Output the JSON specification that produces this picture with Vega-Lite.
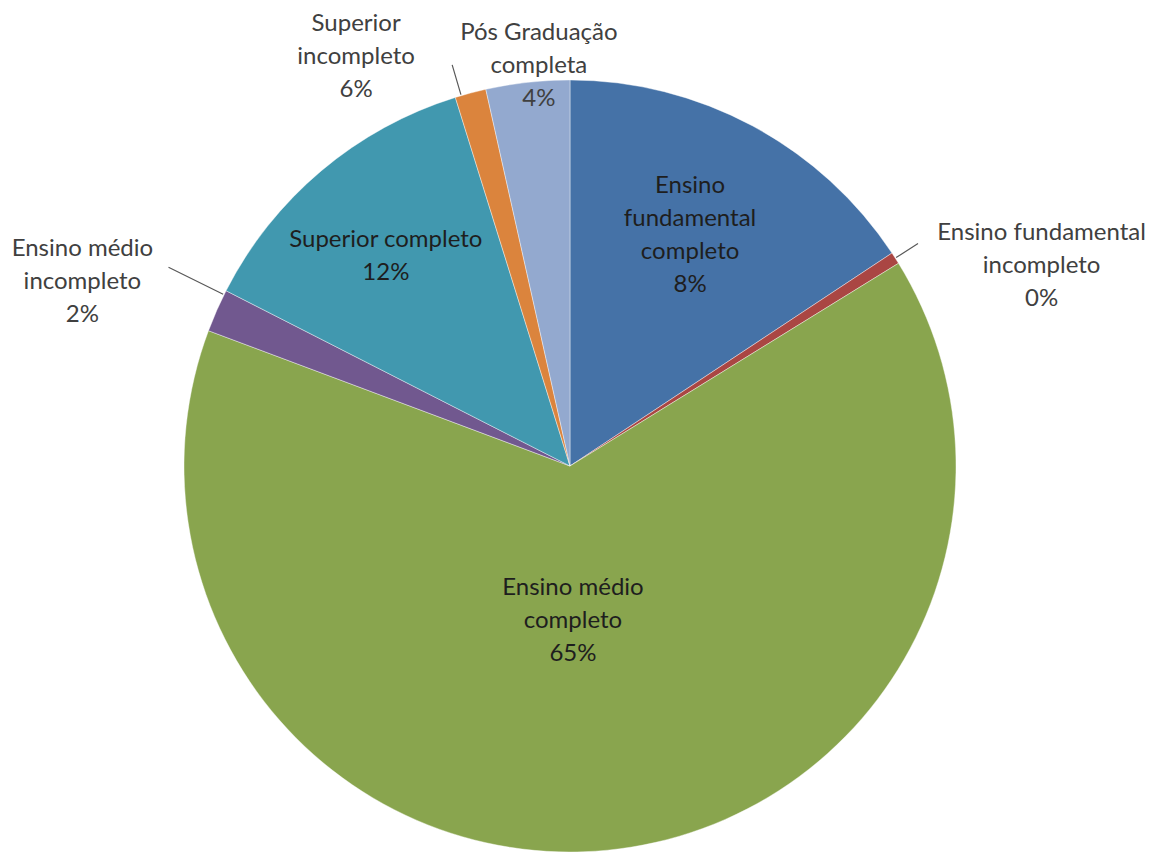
{
  "$schema": "https://vega.github.io/schema/vega-lite/v6.json",
  "width": 1140,
  "height": 772,
  "autosize": {"type": "none"},
  "padding": {"left": 0, "top": 80, "right": 15, "bottom": 0},
  "background": "white",
  "config": {"view": {"stroke": null}, "text": {"font": "Lato", "fontSize": 24, "lineHeight": 33, "lineBreak": "\n", "align": "center", "baseline": "middle"}},
  "data": {"values": [
    {"categoria": "Ensino fundamental completo", "valor": 15.7, "ordem": 1, "rotulo": "Ensino\nfundamental\ncompleto\n8%"},
    {"categoria": "Ensino fundamental incompleto", "valor": 0.5, "ordem": 2, "rotulo": "Ensino fundamental\nincompleto\n0%"},
    {"categoria": "Ensino médio completo", "valor": 64.5, "ordem": 3, "rotulo": "Ensino médio\ncompleto\n65%"},
    {"categoria": "Ensino médio incompleto", "valor": 1.8, "ordem": 4, "rotulo": "Ensino médio\nincompleto\n2%"},
    {"categoria": "Superior completo", "valor": 12.7, "ordem": 5, "rotulo": "Superior completo\n12%"},
    {"categoria": "Superior incompleto", "valor": 1.3, "ordem": 6, "rotulo": "Superior\nincompleto\n6%"},
    {"categoria": "Pós Graduação completa", "valor": 3.5, "ordem": 7, "rotulo": "Pós Graduação\ncompleta\n4%"}
  ]},
  "encoding": {
    "theta": {"field": "valor", "type": "quantitative", "stack": true},
    "order": {"field": "ordem", "type": "quantitative"}
  },
  "layer": [
    {
      "mark": {"type": "arc", "outerRadius": 386, "stroke": "#ffffff", "strokeWidth": 0.8, "strokeOpacity": 0.5},
      "encoding": {
        "color": {
          "field": "categoria", "type": "nominal", "legend": null,
          "scale": {
            "domain": ["Ensino fundamental completo", "Ensino fundamental incompleto", "Ensino médio completo", "Ensino médio incompleto", "Superior completo", "Superior incompleto", "Pós Graduação completa"],
            "range": ["#4572A7", "#AA4643", "#89A54E", "#71588F", "#4198AF", "#DB843D", "#93A9CF"]
          }
        }
      }
    },
    {
      "mark": {"type": "arc", "innerRadius": 387, "outerRadius": 413, "padAngle": 1.4, "filled": false, "stroke": "#595959", "strokeWidth": 1.2},
      "encoding": {
        "strokeOpacity": {"condition": {"test": "datum.categoria === 'Ensino fundamental incompleto'", "value": 1}, "value": 0}
      }
    },
    {
      "mark": {"type": "arc", "innerRadius": 387, "outerRadius": 418, "padAngle": 1.4, "thetaOffset": -0.025, "theta2Offset": -0.025, "filled": false, "stroke": "#595959", "strokeWidth": 1.2},
      "encoding": {
        "strokeOpacity": {"condition": {"test": "datum.categoria === 'Superior incompleto'", "value": 1}, "value": 0}
      }
    },
    {
      "mark": {"type": "arc", "innerRadius": 387, "outerRadius": 448, "padAngle": 1.4, "thetaOffset": 0.045, "theta2Offset": 0.045, "filled": false, "stroke": "#595959", "strokeWidth": 1.2},
      "encoding": {
        "strokeOpacity": {"condition": {"test": "datum.categoria === 'Ensino médio incompleto'", "value": 1}, "value": 0}
      }
    },
    {
      "mark": {"type": "text", "color": "#1e1e1e", "radius": 262, "dx": -4, "dy": -49.5},
      "encoding": {"text": {"condition": {"test": "datum.categoria === 'Ensino fundamental completo'", "field": "rotulo", "type": "nominal"}, "value": ""}}
    },
    {
      "mark": {"type": "text", "color": "#404040", "radius": 511, "dx": 41, "dy": 42},
      "encoding": {"text": {"condition": {"test": "datum.categoria === 'Ensino fundamental incompleto'", "field": "rotulo", "type": "nominal"}, "value": ""}}
    },
    {
      "mark": {"type": "text", "color": "#1e1e1e", "radius": 154, "dx": -12, "dy": -31},
      "encoding": {"text": {"condition": {"test": "datum.categoria === 'Ensino médio completo'", "field": "rotulo", "type": "nominal"}, "value": ""}}
    },
    {
      "mark": {"type": "text", "color": "#404040", "radius": 524, "dx": -8, "dy": -6},
      "encoding": {"text": {"condition": {"test": "datum.categoria === 'Ensino médio incompleto'", "field": "rotulo", "type": "nominal"}, "value": ""}}
    },
    {
      "mark": {"type": "text", "color": "#1e1e1e", "radius": 281, "dx": -3, "dy": -11},
      "encoding": {"text": {"condition": {"test": "datum.categoria === 'Superior completo'", "field": "rotulo", "type": "nominal"}, "value": ""}}
    },
    {
      "mark": {"type": "text", "color": "#404040", "radius": 430, "dx": -103, "dy": -26.5},
      "encoding": {"text": {"condition": {"test": "datum.categoria === 'Superior incompleto'", "field": "rotulo", "type": "nominal"}, "value": ""}}
    },
    {
      "mark": {"type": "text", "color": "#404040", "radius": 402, "dx": 13, "dy": -33},
      "encoding": {"text": {"condition": {"test": "datum.categoria === 'Pós Graduação completa'", "field": "rotulo", "type": "nominal"}, "value": ""}}
    }
  ]
}
